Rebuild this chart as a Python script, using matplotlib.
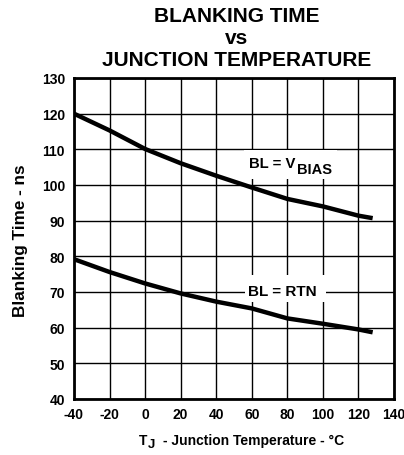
import matplotlib
matplotlib.use("Agg")
import matplotlib.pyplot as plt
from matplotlib.patches import Rectangle

plt.rcParams['font.family'] = ['Liberation Sans', 'DejaVu Sans']
plt.rcParams['font.weight'] = 'bold'
plt.rcParams['axes.unicode_minus'] = False

W, H = 404, 456

# junction temperature (degC)
temp = [-40, -20, 0, 20, 40, 60, 80, 100, 120, 128]
# blanking time (ns)
bl_vbias = [120.0, 115.3, 110.1, 106.1, 102.6, 99.3, 96.1, 94.0, 91.4, 90.7]
bl_rtn = [79.2, 75.6, 72.4, 69.6, 67.3, 65.4, 62.6, 61.1, 59.5, 58.7]

x_ticks = [-40, -20, 0, 20, 40, 60, 80, 100, 120, 140]
y_ticks = [40, 50, 60, 70, 80, 90, 100, 110, 120, 130]


def px(x, y):
    # pixel position (from top-left) -> figure fraction
    return x / W, 1 - y / H


def white_box(x0, y0, x1, y1):
    # white patch behind a label, pixel corners from top-left
    fig.patches.append(Rectangle(px(x0, y1), (x1 - x0) / W, (y1 - y0) / H,
                                 transform=fig.transFigure, facecolor='white',
                                 edgecolor='none', zorder=1))


fig = plt.figure(figsize=(W / 100, H / 100), dpi=100)
ax = fig.add_axes([74 / W, 1 - 400 / H, 320 / W, 321 / H])

ax.plot(temp, bl_vbias, color='black', lw=3.2, solid_capstyle='butt', zorder=3)
ax.plot(temp, bl_rtn, color='black', lw=3.2, solid_capstyle='butt', zorder=3)

ax.set_xlim(-40, 140)
ax.set_ylim(40, 130)
ax.set_xticks(x_ticks)
ax.set_yticks(y_ticks)
ax.grid(True, color='black', lw=1)
ax.tick_params(length=0, labelsize=10)
ax.tick_params(axis='y', pad=6.5)
ax.tick_params(axis='x', pad=5.5)
for lab in ax.get_xticklabels() + ax.get_yticklabels():
    lab.set_fontweight('bold')
for s in ax.spines.values():
    s.set_linewidth(2)

# BL = V_BIAS label
white_box(244, 151, 337, 180)
fig.text(*px(295, 164.2), 'BL = V', fontsize=10.7, fontweight='bold',
         ha='right', va='center')
fig.text(*px(296.5, 170), 'BIAS', fontsize=10.5, fontweight='bold',
         ha='left', va='center')
# BL = RTN label
white_box(245, 276, 326, 303)
fig.text(*px(282, 291.7), 'BL = RTN', fontsize=11, fontweight='bold',
         ha='center', va='center')

fig.text(*px(237, 17), 'BLANKING TIME', ha='center', va='center',
         fontsize=15, fontweight='bold')
fig.text(*px(237, 39), 'vs', ha='center', va='center',
         fontsize=15, fontweight='bold')
fig.text(*px(237, 60), 'JUNCTION TEMPERATURE', ha='center', va='center',
         fontsize=15, fontweight='bold')
fig.text(*px(21, 241), 'Blanking Time - ns', rotation=90,
         ha='center', va='center', fontsize=12.3, fontweight='bold')

# x label with subscript J
fig.text(*px(139, 441.5), 'T', ha='left', va='center', fontsize=10, fontweight='bold')
fig.text(*px(147.5, 445.5), 'J', ha='left', va='center', fontsize=9.5, fontweight='bold')
fig.text(*px(163, 441.5), '- Junction Temperature - °C', ha='left', va='center',
         fontsize=10, fontweight='bold')

fig.savefig('out.png', dpi=100)
